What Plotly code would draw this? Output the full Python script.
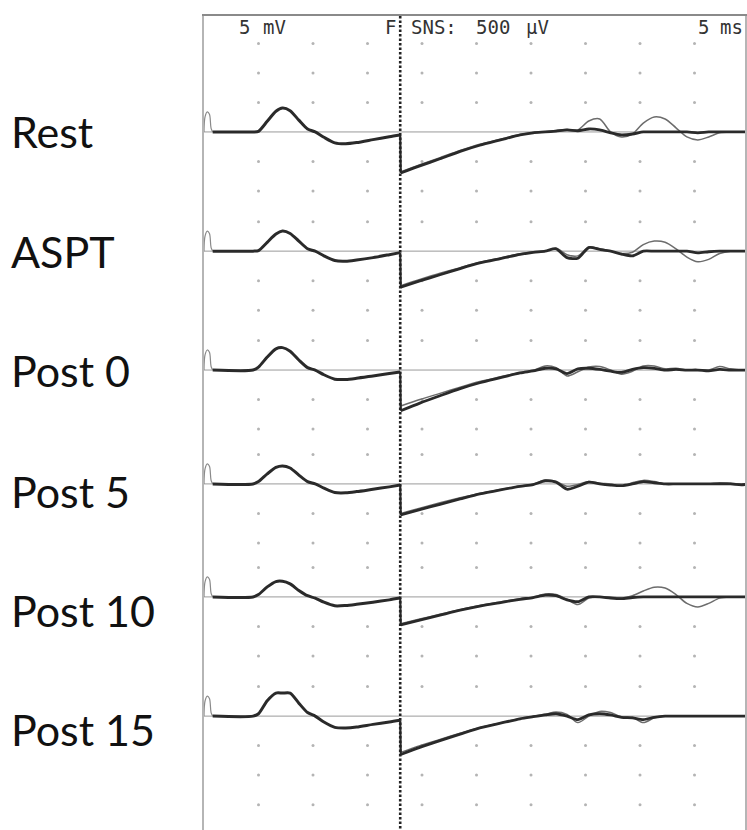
import plotly.graph_objects as go

# ---------------- data ----------------
ROW_LABELS = ["Rest", "ASPT", "Post 0", "Post 5", "Post 10", "Post 15"]

# stimulus artifact (ms, mV)
T_ART = [0.0, 0.1, 0.3, 0.5, 0.65, 0.8]
ART_MV = [0.0, 2.6, 3.4, 3.0, 0.6, 0.0]

# M-wave segment, 5 mV/div (ms, mV)
T_M = [0.8, 4.5, 5.0, 5.8, 6.6, 7.2, 7.9, 8.7, 9.5, 10.2, 11.0, 12.0, 13.0, 14.0, 15.5, 17.0, 18.0]
M_REST = [0, 0, 0.1, 1.8, 3.5, 4.05, 3.6, 2.0, 0.5, 0.0, -0.9, -1.85, -2.0, -1.8, -1.3, -0.8, -0.5]
M_ASPT = [0, 0, 0.1, 1.5, 2.9, 3.4, 3.0, 1.7, 0.4, 0.0, -0.8, -1.6, -1.7, -1.5, -1.1, -0.6, -0.25]
M_POST0 = [0, 0, 0.5, 2.2, 3.6, 3.8, 3.2, 1.7, 0.4, 0.0, -0.8, -1.55, -1.6, -1.4, -1.0, -0.6, -0.35]
M_POST5 = [0, 0, 0.4, 1.7, 2.8, 3.05, 2.7, 1.5, 0.4, 0.0, -0.7, -1.45, -1.5, -1.3, -0.9, -0.5, -0.2]
M_POST10 = [0, 0, 0.4, 1.7, 2.6, 2.65, 2.2, 1.1, 0.2, -0.2, -0.9, -1.5, -1.45, -1.25, -0.9, -0.5, -0.2]
M_POST15 = [0, 0, 0.4, 2.6, 3.9, 3.9, 3.9, 2.2, 0.6, 0.0, -1.0, -1.9, -2.0, -1.85, -1.4, -1.0, -0.7]

# late segment after F marker, 500 uV/div (ms, uV); two overlaid sweeps per row
T_H = [18.05, 19.8, 21.65, 23.5, 25.3, 27.2, 29.0, 30.2,
       31.3, 32.3, 33.3, 34.3, 35.3, 36.3, 37.3, 38.3, 39.3, 40.3,
       41.3, 42.3, 43.3, 44.3, 45.3, 46.3, 47.3, 48.3, 49.3, 50.0]
H_REST = [-695, -575, -455, -330, -225, -135, -50, -15,
          0, 15, 35, 20, 50, 35, -15, -50, -35, 0, 0, 0, 0, 0, -15, 0, 0, 0, 0, 0]
H_REST_B = [-675, -555, -435, -315, -210, -125, -45, -10,
            5, 25, 40, 35, 185, 220, 0, -85, -35, 150, 255, 220, 70, -85, -135, -85, -15, 0, 0, 0]
H_ASPT = [-610, -505, -400, -295, -200, -125, -55, -20,
          0, 40, -110, -120, 60, 30, 0, -50, -80, 0, 0, 0, 0, 0, -30, -10, 0, 0, 0, 0]
H_ASPT_B = [-585, -480, -375, -280, -190, -115, -45, -10,
            0, 50, -60, -80, 70, 40, 0, -40, -20, 110, 170, 150, 40, -100, -180, -140, -40, 0, 0, 0]
H_POST0 = [-690, -560, -435, -315, -215, -130, -50, -15,
           30, 20, -60, 20, 30, 10, -20, -40, 10, 40, 30, 0, 10, 0, 0, -15, 10, 0, 0, 0]
H_POST0_B = [-610, -500, -395, -290, -195, -115, -40, -5,
             70, 40, -100, -30, 50, 60, 0, -70, -20, 70, 70, 20, 30, 0, 0, 0, 60, 20, 0, 0]
H_POST5 = [-525, -435, -345, -255, -170, -100, -40, -10,
           50, 30, -90, -40, 30, 0, -20, -30, 0, 40, 20, 0, 0, 0, 0, 0, 0, 0, -15, 0]
H_POST5_B = [-500, -410, -320, -235, -160, -95, -35, -5,
             70, 40, -40, -10, 40, 10, 0, -40, 20, 60, 40, 0, 0, 0, 0, 0, 20, 10, 0, 0]
H_POST10 = [-475, -395, -310, -225, -155, -95, -40, -10,
            30, 20, -50, -80, 0, 0, -20, -30, -10, 0, 0, 0, 0, 0, 0, 0, 0, 0, 0, 0]
H_POST10_B = [-455, -375, -295, -215, -145, -85, -30, -5,
              50, 40, -40, -130, -20, 0, 0, -20, 20, 100, 165, 150, 40, -110, -170, -110, -20, 0, 0, 0]
H_POST15 = [-650, -530, -415, -305, -200, -120, -45, -10,
            20, 40, 0, -60, 20, 40, 20, -20, -30, -60, -20, 0, 0, 0, 0, 0, 0, 0, 0, 0]
H_POST15_B = [-615, -500, -395, -290, -195, -115, -40, -5,
              30, 70, 30, -110, 0, 80, 60, -10, -20, -110, -30, 0, 0, 0, 0, 0, 0, 0, 0, 0]

M_ROWS = [M_REST, M_ASPT, M_POST0, M_POST5, M_POST10, M_POST15]
H_ROWS = [H_REST, H_ASPT, H_POST0, H_POST5, H_POST10, H_POST15]
H_ROWS_B = [H_REST_B, H_ASPT_B, H_POST0_B, H_POST5_B, H_POST10_B, H_POST15_B]

# instrument settings
M_GAIN_MV_PER_DIV = 5.0
H_GAIN_UV_PER_DIV = 500.0
MS_PER_DIV = 5.0
F_MARK_MS = 18.0

# ---------------- layout constants ----------------
ROW_OFFSETS_DIV = [-3.93, -7.97, -12.0, -15.86, -19.69, -23.73]
LABEL_OFFSETS_DIV = [-3.93, -7.97, -12.03, -16.10, -20.14, -24.20]
Y_MIN, Y_MAX = -27.59, 0.0
X_MIN, X_MAX = 0.0, 49.63
TRACE_COLOR = "#2a2a2a"
SWEEP_COLOR = "#6c6c6c"

fig = go.Figure()

# dot graticule
dot_x, dot_y = [], []
dot_rows = []
for i, b in enumerate(ROW_OFFSETS_DIV):
    if i == 0:
        dot_rows += [b + 3, b + 2]
    dot_rows += [b + 1, b - 1, b - 2]
    if i == len(ROW_OFFSETS_DIV) - 1:
        dot_rows += [b - 3]
for yy in dot_rows:
    for k in range(1, 10):
        dot_x.append(k * MS_PER_DIV)
        dot_y.append(yy)
fig.add_trace(go.Scatter(x=dot_x, y=dot_y, mode="markers",
                         marker=dict(size=3, color="#b4b4b4"), hoverinfo="skip"))

for i, b in enumerate(ROW_OFFSETS_DIV):
    # baseline
    fig.add_trace(go.Scatter(x=[X_MIN, X_MAX], y=[b, b], mode="lines",
                             line=dict(color="#9a9a9a", width=1), hoverinfo="skip"))
    # artifact
    fig.add_trace(go.Scatter(x=T_ART, y=[b + v / M_GAIN_MV_PER_DIV for v in ART_MV],
                             mode="lines", line=dict(color="#8a8a8a", width=1.2, shape="spline"),
                             hoverinfo="skip"))
    # M-wave
    m = M_ROWS[i]
    fig.add_trace(go.Scatter(x=T_M, y=[b + v / M_GAIN_MV_PER_DIV for v in m], mode="lines",
                             line=dict(color=TRACE_COLOR, width=3.0, shape="spline", smoothing=0.7),
                             hoverinfo="skip"))
    # second sweep (lighter)
    hb = H_ROWS_B[i]
    fig.add_trace(go.Scatter(x=T_H, y=[b + v / H_GAIN_UV_PER_DIV for v in hb], mode="lines",
                             line=dict(color=SWEEP_COLOR, width=1.5, shape="spline", smoothing=0.8),
                             hoverinfo="skip"))
    # main late sweep
    h = H_ROWS[i]
    fig.add_trace(go.Scatter(x=T_H, y=[b + v / H_GAIN_UV_PER_DIV for v in h], mode="lines",
                             line=dict(color=TRACE_COLOR, width=2.8, shape="spline", smoothing=0.7),
                             hoverinfo="skip"))
    # gain-change step at F marker
    fig.add_trace(go.Scatter(x=[T_M[-1], T_H[0]],
                             y=[b + m[-1] / M_GAIN_MV_PER_DIV, b + h[0] / H_GAIN_UV_PER_DIV],
                             mode="lines", line=dict(color=TRACE_COLOR, width=2.2), hoverinfo="skip"))
    # row label
    fig.add_annotation(x=-0.3604, xref="paper", y=LABEL_OFFSETS_DIV[i], yref="y",
                       text=ROW_LABELS[i], showarrow=False, xanchor="left", yanchor="middle",
                       font=dict(family="Lato", size=43, color="#111111"))

# F marker dotted line
fig.add_trace(go.Scatter(x=[F_MARK_MS, F_MARK_MS], y=[Y_MAX, Y_MIN], mode="lines",
                         line=dict(color="#222222", width=2.6, dash="2.5px,2px"), hoverinfo="skip"))

# header texts (instrument screen)
HEADER = [("5", 3.05), ("mV", 5.2), ("F", 16.45), ("SNS:", 18.85), ("500", 24.8),
          ("µV", 29.4), ("5", 45.1), ("ms", 47.15)]
for txt, xm in HEADER:
    fig.add_annotation(x=xm, y=-0.36, xref="x", yref="y", text=txt, showarrow=False,
                       xanchor="left", yanchor="middle",
                       font=dict(family="DejaVu Sans Mono", size=19, color="#333333"))

fig.update_layout(
    width=747, height=830,
    margin=dict(l=204, r=2, t=16, b=0),
    paper_bgcolor="white", plot_bgcolor="white",
    showlegend=False,
    xaxis=dict(range=[X_MIN, X_MAX], side="top", showline=True, linecolor="#8a8a8a",
               linewidth=1.5, showgrid=False, zeroline=False, showticklabels=False, ticks=""),
    yaxis=dict(range=[Y_MIN, Y_MAX], showline=True, linecolor="#b5b5b5", linewidth=1.5,
               mirror=True, showgrid=False, zeroline=False, showticklabels=False, ticks=""),
)

fig.write_html("out.html")
